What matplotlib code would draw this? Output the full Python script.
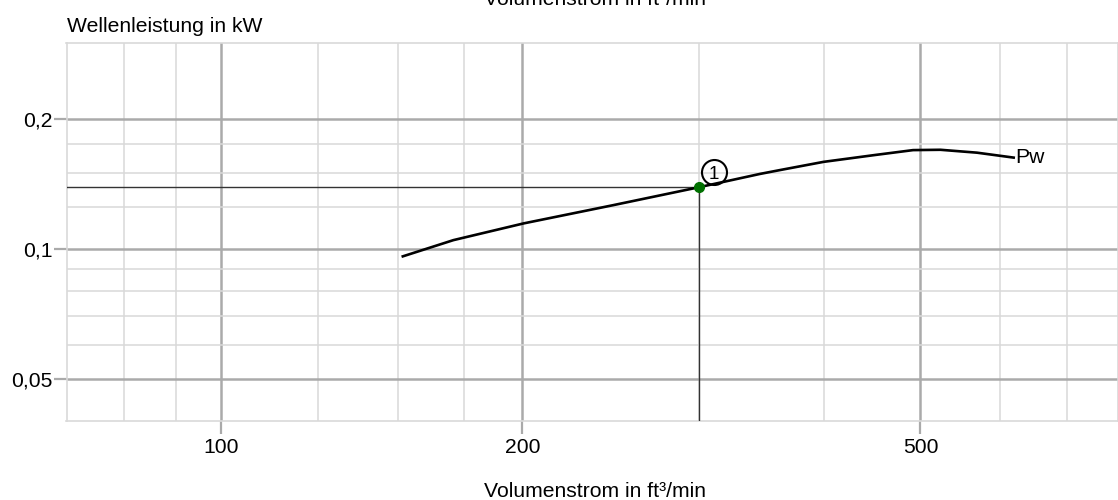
import matplotlib
matplotlib.use("Agg")
import matplotlib.pyplot as plt
from matplotlib.transforms import offset_copy

plt.rcParams['font.family'] = ['Liberation Sans', 'DejaVu Sans']

# ---- data ----
flow = [151.4, 170.6, 200.6, 246.5, 300.0, 345.6, 361.9, 400.0, 450.0, 491.6, 523.5, 569.5, 621.6]
power = [0.0960, 0.1049, 0.1147, 0.1264, 0.1390, 0.1493, 0.1524, 0.1592, 0.1651, 0.1695, 0.1698, 0.1672, 0.1627]
op_flow = 300.0
op_power = 0.139
op_label = "1"
curve_label = "Pw"

x_major = [100, 200, 500]
x_major_labels = ["100", "200", "500"]
x_minor = [80, 90, 125, 150, 175, 300, 400, 600, 700]
y_major = [0.05, 0.1, 0.2]
y_major_labels = ["0,05", "0,1", "0,2"]
y_minor = [0.06, 0.07, 0.08, 0.09, 0.125, 0.15, 0.175]
x_lim = (70, 788)
y_lim = (0.04, 0.3)

x_title = "Volumenstrom in ft³/min"
y_title = "Wellenleistung in kW"

# ---- figure ----
W, H, DPI = 1118, 500, 100
fig = plt.figure(figsize=(W / DPI, H / DPI), dpi=DPI)
left, right, top, bottom = 66.5, 1118, 43, 421
ax = fig.add_axes([left / W, 1 - bottom / H, (right - left) / W, (bottom - top) / H])
ax.set_xscale('log')
ax.set_yscale('log')
ax.set_xlim(*x_lim)
ax.set_ylim(*y_lim)

fs = 15.2
major_c = '#aaaaaa'
minor_c = '#d9d9d9'

ax.set_xticks(x_major, x_major_labels)
ax.set_xticks(x_minor, minor=True)
ax.set_xticklabels([], minor=True)
ax.set_yticks(y_major, y_major_labels)
ax.set_yticks(y_minor, minor=True)
ax.set_yticklabels([], minor=True)
ax.tick_params(which='major', length=9.4, width=1.6, color=major_c, labelsize=fs, direction='out')
ax.tick_params(axis='x', which='major', pad=2.5)
ax.tick_params(axis='y', which='major', pad=0.5)
ax.tick_params(which='minor', length=0)
ax.grid(True, which='major', color=major_c, linewidth=1.8, zorder=0)
ax.grid(True, which='minor', color=minor_c, linewidth=1.1, zorder=0)
ax.set_axisbelow(True)
for s in ax.spines.values():
    s.set_color(minor_c)
    s.set_linewidth(1.2)

# operating point guide lines
ax.plot([x_lim[0], op_flow], [op_power, op_power], color='#333333', lw=1.0, zorder=3)
ax.plot([op_flow, op_flow], [y_lim[0], op_power], color='#333333', lw=1.0, zorder=3)

# curve
ax.plot(flow, power, color='black', lw=1.9, solid_capstyle='butt', zorder=4)
ax.text(flow[-1], power[-1], curve_label, fontsize=fs, ha='left', va='center', zorder=5)

# operating point
ax.plot([op_flow], [op_power], marker='o', ms=7, color='#007000', zorder=6, linestyle='none')
tr = offset_copy(ax.transData, fig=fig, x=15, y=15, units='dots')
ax.plot([op_flow], [op_power], marker='o', ms=18, mfc='none', mec='black', mew=1.5,
        transform=tr, zorder=6, linestyle='none')
ax.text(op_flow, op_power, op_label, transform=tr, fontsize=13.5, ha='center',
        va='center_baseline', zorder=7)

# titles
fig.text(67 / W, 1 - 32 / H, y_title, fontsize=fs, ha='left', va='baseline')
fig.text(595.5 / W, 1 - 497 / H, x_title, fontsize=fs, ha='center', va='baseline')
fig.text(595.5 / W, 1 - 5 / H, x_title, fontsize=fs, ha='center', va='baseline')

fig.savefig('out.png', dpi=DPI)
